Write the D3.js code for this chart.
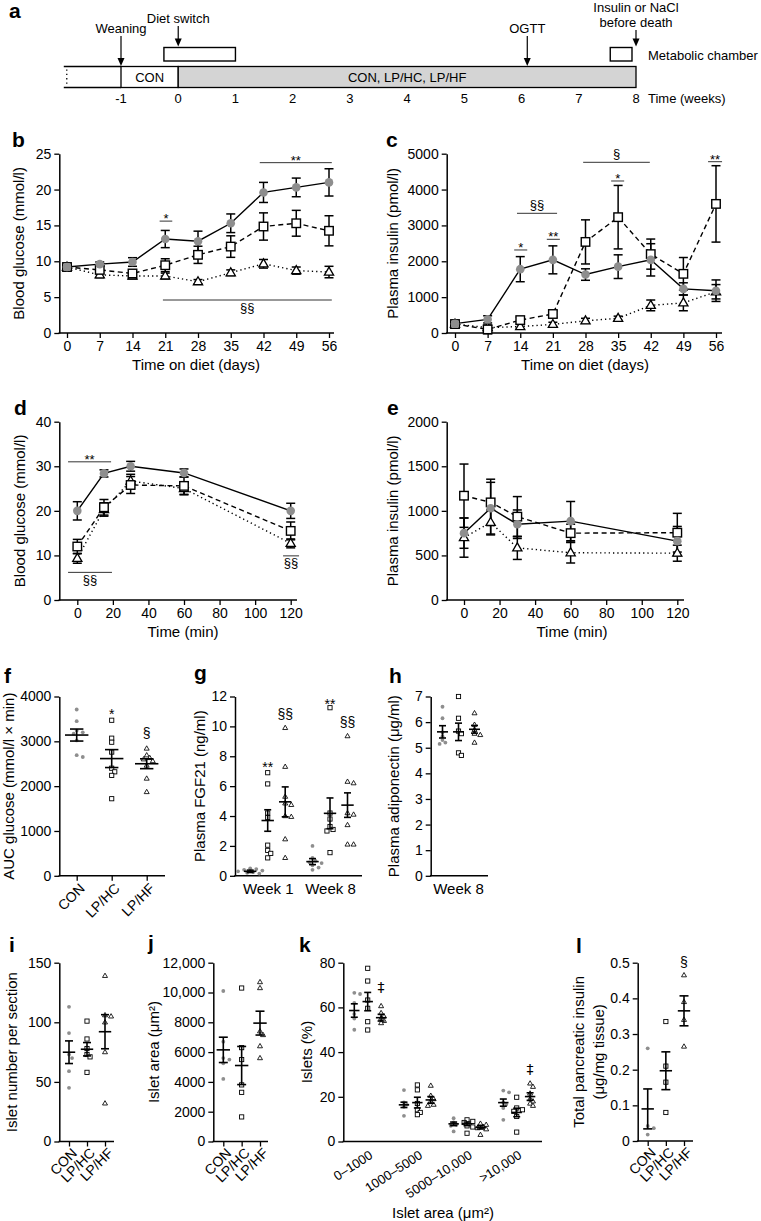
<!DOCTYPE html>
<html><head><meta charset="utf-8">
<script src="https://cdn.jsdelivr.net/npm/d3@7/dist/d3.min.js"></script>
<style>
html,body{margin:0;padding:0;background:#fff;}
svg{display:block;}
</style></head><body>
<script>
// ================= DATA =================
// (a) study timeline (weeks)
const timeTicks = [-1,0,1,2,3,4,5,6,7,8];
const phaseStart = [-1, 0];
const phaseEnd = [0, 8];
const phaseLabels = ['CON', 'CON, LP/HC, LP/HF'];
const preWeaningStart = -2;
const chamberStart = [-0.25, 7.55];
const chamberEnd = [1.0, 7.93];
const eventWeeks = [-1, 0, 6.1, 8];
const eventLabels = [['Weaning'], ['Diet switch'], ['OGTT'], ['Insulin or NaCl','before death']];
const eventTargets = ['bar','box','bar','box'];

// groups
const groups = ['CON','LP/HC','LP/HF'];

// (b) blood glucose over diet (mmol/l)
const dietDays = [0,7,14,21,28,35,42,49,56];
const bCON = [9.2, 9.6, 9.9, 13.1, 12.8, 15.3, 19.6, 20.3, 21.0];
const bCONsem = [0.3, 0.3, 0.6, 1.2, 1.4, 1.3, 1.4, 1.3, 1.9];
const bHC = [9.2, 8.8, 8.3, 9.45, 10.9, 12.05, 14.85, 15.3, 14.25];
const bHCsem = [0.3, 0.5, 0.4, 0.9, 1.2, 1.5, 1.9, 1.8, 2.1];
const bHF = [9.2, 8.1, 7.95, 7.95, 7.15, 8.4, 9.65, 8.7, 8.5];
const bHFsem = [0.3, 0.4, 0.4, 0.4, 0.3, 0.4, 0.6, 0.5, 0.8];
const bAnnot = [
  {x1:19.8, x2:22.5, y:15.6, text:'*', below:false},
  {x1:41.2, x2:56.6, y:23.75, text:'**', below:false},
  {x1:20.5, x2:56.6, y:4.6, text:'§§', below:true}
];

// (c) plasma insulin over diet (pmol/l)
const cCON = [260, 380, 1780, 2040, 1630, 1850, 2040, 1230, 1180];
const cCONsem = [50, 100, 350, 390, 160, 330, 450, 170, 300];
const cHC = [250, 100, 360, 530, 2540, 3230, 2200, 1650, 3600];
const cHCsem = [60, 120, 80, 90, 615, 885, 420, 455, 1065];
const cHF = [250, 150, 180, 240, 340, 410, 770, 840, 1150];
const cHFsem = [50, 60, 60, 60, 70, 60, 150, 220, 200];
const cAnnot = [
  {x1:12.7, x2:15.5, y:2315, text:'*', below:false},
  {x1:19.7, x2:22.5, y:2613, text:'**', below:false},
  {x1:13.3, x2:21.9, y:3338, text:'§§', below:false},
  {x1:33.5, x2:36.3, y:4239, text:'*', below:false},
  {x1:27.5, x2:41.8, y:4760, text:'§', below:false},
  {x1:54.3, x2:57.3, y:4777, text:'**', below:false}
];

// (d) OGTT blood glucose (mmol/l)
const ogttMin = [0, 15, 30, 60, 120];
const ogttTicks = [0, 20, 40, 60, 80, 100, 120];
const dCON = [20.0, 28.4, 30.0, 28.5, 20.0];
const dCONsem = [2.05, 0.8, 1.1, 0.9, 1.7];
const dHC = [12.0, 20.8, 25.8, 25.6, 15.5];
const dHCsem = [1.6, 1.75, 1.9, 2.0, 2.0];
const dHF = [9.35, 20.3, 26.7, 25.0, 12.7];
const dHFsem = [1.1, 1.5, 1.5, 1.3, 1.0];
const dAnnot = [
  {x1:-5.2, x2:19.0, y:31.0, text:'**', below:false},
  {x1:-5.2, x2:19.5, y:6.2, text:'§§', below:true},
  {x1:115.7, x2:124.7, y:9.9, text:'§§', below:true}
];

// (e) OGTT plasma insulin (pmol/l)
const eCON = [750, 1030, 850, 885, 660];
const eCONsem = [170, 290, 160, 220, 165];
const eHC = [1170, 1095, 935, 750, 755];
const eHCsem = [355, 260, 225, 100, 217];
const eHF = [700, 870, 585, 530, 525];
const eHFsem = [220, 140, 130, 115, 90];

// (f) AUC glucose
const fCON = [3710, 3450, 3240, 3200, 3170, 3020, 2690, 2650];
const fHC = [3470, 3070, 2980, 2760, 2400, 2320, 2240, 1720];
const fHF = [2840, 2690, 2630, 2600, 2560, 2460, 2170, 1870];
const fMean = [3140, 2615, 2500];
const fSem = [134, 200, 110];
const fSig = ['', '*', '§'];
const fSigY = [0, 3690, 3160];

// (g) plasma FGF21 (ng/ml)
const gWeeks = ['Week 1', 'Week 8'];
const gCON = [[0.5,0.45,0.4,0.35,0.3,0.25,0.2,0.15],[2.0,1.2,1.0,0.9,0.85,0.7,0.55,0.4]];
const gHC = [[6.9,6.15,4.2,3.9,2.05,1.7,1.5,1.2],[11.25,4.2,3.8,3.3,3.1,3.0,1.55]];
const gHF = [[9.9,7.3,5.3,4.85,4.75,4.0,3.95,2.45,1.2],[9.35,6.3,6.2,4.2,4.1,3.4,2.1,2.1]];
const gMean = [[0.3,3.7,4.95],[0.95,4.18,4.73]];
const gSem = [[0.08,0.72,1.0],[0.2,1.03,0.82]];
const gSig = [['','**','§§'],['','**','§§']];
const gSigY = [[0,7.47,10.73],[0,11.69,10.18]];

// (h) plasma adiponectin (µg/ml)
const hWeek = ['Week 8'];
const hCON = [6.6, 6.15, 5.6, 5.45, 5.3, 5.2, 5.15];
const hHC = [7.0, 6.15, 5.65, 5.55, 4.8, 4.7];
const hHF = [6.35, 5.9, 5.7, 5.55, 5.5, 5.2];
const hMean = [5.62, 5.62, 5.72];
const hSem = [0.24, 0.34, 0.15];

// (i) islet number per section
const iCON = [113, 91, 73, 70, 59, 45];
const iHC = [101, 86, 78, 73, 71, 58];
const iHF = [139, 106, 105, 100, 75, 32];
const iMean = [74.9, 77.4, 92.1];
const iSem = [9.5, 5.6, 14.3];

// (j) islet area (µm²)
const jCON = [10100, 6700, 5600, 5500, 5250, 4200];
const jHC = [10300, 6300, 5500, 3800, 3300, 1650];
const jHF = [10700, 10300, 7400, 7150, 6400, 5600];
const jMean = [6150, 5100, 7945];
const jSem = [850, 1280, 800];

// (k) islet size distribution (%)
const kBins = ['0–1000', '1000–5000', '5000–10,000', '>10,000'];
const kCON = [[66.5,66,62,57,55,50],[23,17.5,16.5,15.5,11.5],[10.4,8.5,7.5,7,4.5],[22.8,22,17.5,16.5,15,9.7]];
const kHC = [[77.5,71.8,63.3,59.6,53.6,49.9],[25.3,23.1,17,14.2,13,12],[9.7,9,8.5,7,6.5,3.7],[19.8,15,14.2,13.5,11.2,4.2]];
const kHF = [[60.6,57.5,56,55,54,53],[25,20.5,19,18,16.5,16],[8,7.5,6.5,6,5.5,3],[26,24.5,21.5,19,18,17,16]];
const kMean = [[58.6,62.6,55.4],[16.4,17.4,18.6],[7.9,7.9,6.4],[17.4,13.0,20.1]];
const kSem = [[3.0,4.1,1.5],[1.2,2.4,1.5],[0.8,0.8,0.8],[1.6,1.9,1.7]];
const kSig = [['','','‡'],['','',''],['','',''],['','','‡']];
const kSigY = [[0,0,68.6],[0,0,0],[0,0,0],[0,0,32.0]];

// (l) total pancreatic insulin (µg/mg tissue)
const lCON = [0.26, 0.042, 0.036, 0.018];
const lHC = [0.335, 0.21, 0.165, 0.08];
const lHF = [0.465, 0.39, 0.34, 0.265];
const lMean = [0.09, 0.197, 0.365];
const lSem = [0.056, 0.053, 0.042];
const lSig = ['', '', '§'];
const lSigY = [0, 0, 0.498];

// ================= DRAWING =================
const FF = "'Liberation Sans', Arial, Helvetica, sans-serif";
const GREY = '#8e8e8e';
const KINDS = ['con','hc','hf'];
const DASH = {con:null, hc:'5,3.5', hf:'1.3,3'};

const svg = d3.select('body').append('svg')
  .attr('width', 761).attr('height', 1221)
  .attr('font-family', FF);

function text(g, x, y, s, o = {}) {
  const t = g.append('text').attr('x', x).attr('y', y).text(s)
    .attr('font-size', o.size || 14).attr('text-anchor', o.anchor || 'middle').attr('fill', '#000');
  if (o.weight) t.attr('font-weight', o.weight);
  if (o.family) t.attr('font-family', o.family);
  if (o.dy) t.attr('dy', o.dy);
  if (o.rotate != null) t.attr('transform', `rotate(${o.rotate},${x},${y})`);
  return t;
}
function panelLabel(s, x, y) { text(svg, x, y, s, {size: 21, weight: 'bold', anchor: 'start'}); }
function yTitle(lines, cx, cy, size) {
  lines.forEach((l, i) => {
    const x = cx + (i - (lines.length - 1) / 2) * 20;
    text(svg, x, cy, l, {size: size || 15, rotate: -90, dy: '0.35em'});
  });
}
function styleAxis(sel, fs) {
  sel.attr('font-family', FF).attr('font-size', fs || 14);
  sel.selectAll('.domain').attr('stroke', '#000').attr('stroke-width', 1.5);
  sel.selectAll('.tick line').attr('stroke', '#000').attr('stroke-width', 1.3);
  sel.selectAll('.tick text').attr('fill', '#000');
}
function triPath(x, y, s) {
  const h = s * 0.866;
  return `M${x},${y - h * 0.62}L${x + s / 2},${y + h * 0.38}L${x - s / 2},${y + h * 0.38}Z`;
}
function drawMarkers(g, pts, kind, big) {
  const gg = g.append('g');
  if (kind === 'con') {
    gg.selectAll('circle').data(pts).join('circle')
      .attr('cx', d => d.x).attr('cy', d => d.y).attr('r', big ? 4.3 : 1.9).attr('fill', GREY);
  } else if (kind === 'hc') {
    const s = big ? 8.5 : 4.2;
    gg.selectAll('rect').data(pts).join('rect')
      .attr('x', d => d.x - s / 2).attr('y', d => d.y - s / 2).attr('width', s).attr('height', s)
      .attr('fill', '#fff').attr('stroke', '#000').attr('stroke-width', big ? 1.4 : 0.9);
  } else {
    const s = big ? 9.2 : 5;
    gg.selectAll('path').data(pts).join('path')
      .attr('d', d => triPath(d.x, d.y, s))
      .attr('fill', '#fff').attr('stroke', '#000').attr('stroke-width', big ? 1.3 : 0.85);
  }
}
function sigText(g, cx, cy, s, size) {
  // place glyph so that its visual centre is at cy
  const fs = size || 13;
  const k = s.indexOf('*') >= 0 ? 0.58 : 0.27;
  const o = {size: fs};
  if (s.indexOf('‡') >= 0) o.family = "'DejaVu Sans', sans-serif";
  text(g, cx, cy + k * fs, s, o);
}
function annotate(g, x, y, list) {
  list.forEach(a => {
    const ly = y(a.y);
    g.append('line').attr('x1', x(a.x1)).attr('x2', x(a.x2)).attr('y1', ly).attr('y2', ly)
      .attr('stroke', '#333').attr('stroke-width', 1);
    const cx = (x(a.x1) + x(a.x2)) / 2;
    const star = a.text.indexOf('*') >= 0;
    const cy = a.below ? ly + 8 : ly - (star ? 5.5 : 8);
    sigText(g, cx, cy, a.text);
  });
}

// -------- panel a --------
(function () {
  const g = svg.append('g');
  const x = d3.scaleLinear().domain([-1, 8]).range([121, 636]);
  const top = 66.5, bot = 87.5;
  // pre-weaning open section
  g.append('line').attr('x1', x(preWeaningStart)).attr('x2', x(-1)).attr('y1', top).attr('y2', top).attr('stroke', '#000').attr('stroke-width', 1.3);
  g.append('line').attr('x1', x(preWeaningStart)).attr('x2', x(-1)).attr('y1', bot).attr('y2', bot).attr('stroke', '#000').attr('stroke-width', 1.3);
  g.append('line').attr('x1', x(preWeaningStart) + 3).attr('x2', x(preWeaningStart) + 3).attr('y1', top + 3).attr('y2', bot - 2)
    .attr('stroke', '#000').attr('stroke-width', 1.3).attr('stroke-dasharray', '1.3,3');
  const fills = ['#fff', '#d4d4d4'];
  phaseStart.forEach((s, i) => {
    g.append('rect').attr('x', x(s)).attr('y', top).attr('width', x(phaseEnd[i]) - x(s)).attr('height', bot - top)
      .attr('fill', fills[i]).attr('stroke', '#000').attr('stroke-width', 1.3);
    text(g, (x(s) + x(phaseEnd[i])) / 2, 82, phaseLabels[i], {size: 13});
  });
  chamberStart.forEach((s, i) => {
    g.append('rect').attr('x', x(s)).attr('y', 47.5).attr('width', x(chamberEnd[i]) - x(s)).attr('height', 13.5)
      .attr('fill', '#fff').attr('stroke', '#000').attr('stroke-width', 1.4);
  });
  text(g, 648, 60, 'Metabolic chamber', {size: 13, anchor: 'start'});
  timeTicks.forEach(t => text(g, x(t), 103, String(t), {size: 13}));
  text(g, 648, 103, 'Time (weeks)', {size: 13, anchor: 'start'});
  const lastBase = [33, 23, 33, 27];
  eventWeeks.forEach((w, i) => {
    const ex = x(w);
    const lines = eventLabels[i];
    lines.forEach((l, j) => text(g, ex, lastBase[i] - (lines.length - 1 - j) * 15, l, {size: 13}));
    const y1 = lastBase[i] + 3;
    const y2 = eventTargets[i] === 'bar' ? top - 0.5 : 46.5;
    g.append('line').attr('x1', ex).attr('x2', ex).attr('y1', y1).attr('y2', y2 - 7).attr('stroke', '#000').attr('stroke-width', 1.2);
    g.append('path').attr('d', `M${ex - 3.5},${y2 - 8}L${ex + 3.5},${y2 - 8}L${ex},${y2}Z`).attr('fill', '#000');
  });
  panelLabel('a', 9, 18);
})();

// -------- line panels --------
function linePanel(c) {
  const g = svg.append('g');
  const x = d3.scaleLinear().domain(c.xDom).range(c.xRng);
  const y = d3.scaleLinear().domain(c.yDom).range(c.yRng);
  const ya = g.append('g').attr('transform', `translate(${c.x0},0)`)
    .call(d3.axisLeft(y).tickValues(c.yTicks).tickSize(5).tickPadding(3).tickSizeOuter(0).tickFormat(d3.format('d')));
  styleAxis(ya);
  const xa = g.append('g').attr('transform', `translate(0,${c.yRng[0]})`)
    .call(d3.axisBottom(x).tickValues(c.xTicks).tickSize(5).tickPadding(3).tickSizeOuter(0).tickFormat(d3.format('d')));
  xa.select('.domain').remove();
  styleAxis(xa);
  g.append('line').attr('x1', c.x0 - 0.75).attr('x2', c.xEnd).attr('y1', c.yRng[0]).attr('y2', c.yRng[0])
    .attr('stroke', '#000').attr('stroke-width', 1.5);
  const order = [2, 1, 0];
  order.forEach(k => {
    const pts = c.means[k].map((m, i) => [c.xs[i], m]);
    g.append('path').datum(pts).attr('d', d3.line().x(d => x(d[0])).y(d => y(d[1])))
      .attr('fill', 'none').attr('stroke', '#000').attr('stroke-width', 1.4)
      .attr('stroke-dasharray', DASH[KINDS[k]]);
  });
  order.forEach(k => {
    const eb = c.means[k].map((m, i) => ({x: x(c.xs[i]), lo: y(m - c.sems[k][i]), hi: y(m + c.sems[k][i])}));
    const gg = g.append('g').attr('stroke', '#000').attr('stroke-width', 1.5);
    gg.selectAll('line.v').data(eb).join('line').attr('class', 'v')
      .attr('x1', d => d.x).attr('x2', d => d.x).attr('y1', d => d.lo).attr('y2', d => d.hi);
    gg.selectAll('line.t').data(eb).join('line').attr('class', 't')
      .attr('x1', d => d.x - 4.5).attr('x2', d => d.x + 4.5).attr('y1', d => d.hi).attr('y2', d => d.hi);
    gg.selectAll('line.b').data(eb).join('line').attr('class', 'b')
      .attr('x1', d => d.x - 4.5).attr('x2', d => d.x + 4.5).attr('y1', d => d.lo).attr('y2', d => d.lo);
  });
  order.forEach(k => {
    drawMarkers(g, c.means[k].map((m, i) => ({x: x(c.xs[i]), y: y(m)})), KINDS[k], true);
  });
  if (c.annot) annotate(g, x, y, c.annot);
  yTitle([c.yTitle], c.yTitleX, (c.yRng[0] + c.yRng[1]) / 2);
  text(svg, c.xTitleX, c.xTitleY, c.xTitle, {size: 15});
  panelLabel(c.label, c.labelX, c.labelY);
}

linePanel({label: 'b', labelX: 12, labelY: 147, x0: 59.3, xEnd: 334,
  xDom: [0, 56], xRng: [67, 329], yDom: [0, 25], yRng: [333, 153.7],
  yTicks: [0, 5, 10, 15, 20, 25], xTicks: dietDays, xs: dietDays,
  means: [bCON, bHC, bHF], sems: [bCONsem, bHCsem, bHFsem], annot: bAnnot,
  yTitle: 'Blood glucose (mmol/l)', yTitleX: 19, xTitle: 'Time on diet (days)', xTitleX: 196, xTitleY: 370});

linePanel({label: 'c', labelX: 386, labelY: 147, x0: 446.7, xEnd: 722,
  xDom: [0, 56], xRng: [455, 716], yDom: [0, 5000], yRng: [333, 153.7],
  yTicks: [0, 1000, 2000, 3000, 4000, 5000], xTicks: dietDays, xs: dietDays,
  means: [cCON, cHC, cHF], sems: [cCONsem, cHCsem, cHFsem], annot: cAnnot,
  yTitle: 'Plasma insulin (pmol/l)', yTitleX: 393, xTitle: 'Time on diet (days)', xTitleX: 585, xTitleY: 370});

linePanel({label: 'd', labelX: 14, labelY: 415, x0: 59.3, xEnd: 297,
  xDom: [0, 120], xRng: [77.3, 290.7], yDom: [0, 40], yRng: [600, 421.7],
  yTicks: [0, 10, 20, 30, 40], xTicks: ogttTicks, xs: ogttMin,
  means: [dCON, dHC, dHF], sems: [dCONsem, dHCsem, dHFsem], annot: dAnnot,
  yTitle: 'Blood glucose (mmol/l)', yTitleX: 20, xTitle: 'Time (min)', xTitleX: 183, xTitleY: 637});

linePanel({label: 'e', labelX: 387, labelY: 415, x0: 446.7, xEnd: 684,
  xDom: [0, 120], xRng: [464, 677.3], yDom: [0, 2000], yRng: [600, 421.7],
  yTicks: [0, 500, 1000, 1500, 2000], xTicks: ogttTicks, xs: ogttMin,
  means: [eCON, eHC, eHF], sems: [eCONsem, eHCsem, eHFsem],
  yTitle: 'Plasma insulin (pmol/l)', yTitleX: 393, xTitle: 'Time (min)', xTitleX: 572, xTitleY: 637});

// -------- dot panels --------
function swarm(values, y, cx, sep) {
  const pts = values.map(v => ({v, y: y(v)})).sort((a, b) => a.y - b.y);
  const placed = [];
  pts.forEach(p => {
    const cands = [0];
    for (let i = 1; i < 8; i++) { cands.push(i * sep * 0.8, -i * sep * 0.8); }
    let off = cands[cands.length - 1];
    for (const c of cands) {
      if (placed.every(q => Math.hypot(q.x - (cx + c), q.y - p.y) >= sep)) { off = c; break; }
    }
    p.x = cx + off;
    placed.push(p);
  });
  return placed;
}
function drawClusters(g, y, list, o) {
  list.forEach(c => drawMarkers(g, swarm(c.values, y, c.cx, o.sep), c.kind, false));
  const gg = g.append('g').attr('stroke', '#000').attr('stroke-width', 1.6);
  list.forEach(c => {
    const hi = y(c.mean + c.sem), lo = y(c.mean - c.sem), m = y(c.mean);
    gg.append('line').attr('x1', c.cx).attr('x2', c.cx).attr('y1', lo).attr('y2', hi);
    gg.append('line').attr('x1', c.cx - o.cap).attr('x2', c.cx + o.cap).attr('y1', hi).attr('y2', hi);
    gg.append('line').attr('x1', c.cx - o.cap).attr('x2', c.cx + o.cap).attr('y1', lo).attr('y2', lo);
    gg.append('line').attr('x1', c.cx - o.mean).attr('x2', c.cx + o.mean).attr('y1', m).attr('y2', m);
    if (c.sig) sigText(g, c.cx, y(c.sigY), c.sig, 14);
  });
}
function dotAxes(c) {
  const g = svg.append('g');
  const y = d3.scaleLinear().domain(c.yDom).range(c.yRng);
  const ya = g.append('g').attr('transform', `translate(${c.x0},0)`)
    .call(d3.axisLeft(y).tickValues(c.yTicks).tickSize(5).tickPadding(3).tickSizeOuter(0).tickFormat(c.fmt || d3.format('d')));
  styleAxis(ya);
  g.append('line').attr('x1', c.x0 - 0.75).attr('x2', c.xEnd).attr('y1', c.yRng[0]).attr('y2', c.yRng[0])
    .attr('stroke', '#000').attr('stroke-width', 1.5);
  if (c.xScale) {
    const xa = g.append('g').attr('transform', `translate(0,${c.yRng[0]})`)
      .call(d3.axisBottom(c.xScale).tickSize(c.tickSize == null ? 5 : c.tickSize).tickPadding(c.pad || 3).tickSizeOuter(0));
    xa.select('.domain').remove();
    styleAxis(xa, c.xfs || 14);
    if (c.rot) {
      xa.selectAll('.tick text').attr('text-anchor', 'end').attr('x', 0).attr('y', 0).attr('dy', '0.35em')
        .attr('transform', `translate(${c.rotDx},${c.rotDy}) rotate(${c.rot})`);
    }
  }
  yTitle(c.yTitle, c.yTitleX, (c.yRng[0] + c.yRng[1]) / 2);
  panelLabel(c.label, c.labelX, c.labelY);
  return {g, y};
}
function simplePanel(c, vals, means, sems, sig, sigY, o) {
  const x = d3.scalePoint().domain(groups).range(c.catRange);
  c.xScale = c.noCatAxis ? null : x;
  const {g, y} = dotAxes(c);
  const list = groups.map((gr, k) => ({cx: x(gr), kind: KINDS[k], values: vals[k], mean: means[k], sem: sems[k],
    sig: sig ? sig[k] : '', sigY: sigY ? sigY[k] : 0}));
  drawClusters(g, y, list, o);
  return {g, x, y};
}

// f
simplePanel({label: 'f', labelX: 4, labelY: 683, x0: 59.3, xEnd: 165, yDom: [0, 4000], yRng: [875.8, 696.5],
  yTicks: [0, 1000, 2000, 3000, 4000], catRange: [76.7, 146.7], rot: -45, rotDx: 5, rotDy: 10,
  yTitle: ['AUC glucose (mmol/l × min)'], yTitleX: 9},
  [fCON, fHC, fHF], fMean, fSem, fSig, fSigY, {sep: 3.8, cap: 6.7, mean: 11.7});

// g
(function () {
  const gx = d3.scalePoint().domain(gWeeks).range([267.7, 330]);
  const ox = d3.scalePoint().domain(groups).range([-17.5, 17.5]);
  const {g, y} = dotAxes({label: 'g', labelX: 194, labelY: 680, x0: 235, xEnd: 362, yDom: [0, 12], yRng: [875.8, 696.5],
    yTicks: [0, 2, 4, 6, 8, 10, 12], xScale: gx, tickSize: 0, pad: 8, xfs: 15,
    yTitle: ['Plasma FGF21 (ng/ml)'], yTitleX: 200});
  const list = [];
  gWeeks.forEach((w, wi) => groups.forEach((gr, k) => list.push({cx: gx(w) + ox(gr), kind: KINDS[k],
    values: [gCON, gHC, gHF][k][wi], mean: gMean[wi][k], sem: gSem[wi][k], sig: gSig[wi][k], sigY: gSigY[wi][k]})));
  drawClusters(g, y, list, {sep: 3.8, cap: 3.5, mean: 6.2});
})();

// h
(function () {
  const hx = d3.scalePoint().domain(hWeek).range([458, 458]);
  const cx = d3.scalePoint().domain(groups).range([442.5, 474.5]);
  const {g, y} = dotAxes({label: 'h', labelX: 389, labelY: 683, x0: 430.7, xEnd: 488, yDom: [0, 7], yRng: [875.8, 696.5],
    yTicks: [0, 1, 2, 3, 4, 5, 6, 7], xScale: hx, tickSize: 0, pad: 8, xfs: 15,
    yTitle: ['Plasma adiponectin (μg/ml)'], yTitleX: 394});
  const list = groups.map((gr, k) => ({cx: cx(gr), kind: KINDS[k], values: [hCON, hHC, hHF][k], mean: hMean[k], sem: hSem[k]}));
  drawClusters(g, y, list, {sep: 3.6, cap: 3.5, mean: 5.5});
})();

// i
simplePanel({label: 'i', labelX: 9, labelY: 952, x0: 59.3, xEnd: 114, yDom: [0, 150], yRng: [1141.5, 962.7],
  yTicks: [0, 50, 100, 150], catRange: [69, 105], rot: -45, rotDx: 5, rotDy: 9,
  yTitle: ['Islet number per section'], yTitleX: 12},
  [iCON, iHC, iHF], iMean, iSem, null, null, {sep: 3.8, cap: 4, mean: 6.2});

// j
simplePanel({label: 'j', labelX: 148, labelY: 950, x0: 213.3, xEnd: 268, yDom: [0, 12000], yRng: [1141.5, 962.7],
  yTicks: [0, 2000, 4000, 6000, 8000, 10000, 12000], fmt: v => v >= 10000 ? d3.format(',')(v) : String(v),
  catRange: [223.3, 260], rot: -45, rotDx: 5, rotDy: 9,
  yTitle: ['Islet area (μm²)'], yTitleX: 154},
  [jCON, jHC, jHF], jMean, jSem, null, null, {sep: 3.8, cap: 4.5, mean: 6.7});

// k
(function () {
  const gx = d3.scalePoint().domain(kBins).range([367.7, 516.7]);
  const ox = d3.scalePoint().domain(groups).range([-13.4, 13.4]);
  const {g, y} = dotAxes({label: 'k', labelX: 299, labelY: 952, x0: 343.3, xEnd: 542, yDom: [0, 80], yRng: [1141.5, 962.7],
    yTicks: [0, 20, 40, 60, 80], xScale: gx, tickSize: 0, rot: -33, rotDx: 3, rotDy: 12, xfs: 13,
    yTitle: ['Islets (%)'], yTitleX: 307});
  const list = [];
  kBins.forEach((b, bi) => groups.forEach((gr, k) => list.push({cx: gx(b) + ox(gr), kind: KINDS[k],
    values: [kCON, kHC, kHF][k][bi], mean: kMean[bi][k], sem: kSem[bi][k], sig: kSig[bi][k], sigY: kSigY[bi][k]})));
  drawClusters(g, y, list, {sep: 3.6, cap: 3.5, mean: 5.2});
  text(svg, 443, 1218, 'Islet area (μm²)', {size: 15});
})();

// l
simplePanel({label: 'l', labelX: 576, labelY: 953, x0: 637.7, xEnd: 693, yDom: [0, 0.5], yRng: [1141, 962.7],
  yTicks: [0, 0.1, 0.2, 0.3, 0.4, 0.5], fmt: v => v === 0 ? '0' : d3.format('.1f')(v),
  catRange: [647.7, 684], rot: -45, rotDx: 5, rotDy: 9,
  yTitle: ['Total pancreatic insulin', '(μg/mg tissue)'], yTitleX: 588.5},
  [lCON, lHC, lHF], lMean, lSem, lSig, lSigY, {sep: 3.8, cap: 4.5, mean: 6.2});
</script>
</body></html>
